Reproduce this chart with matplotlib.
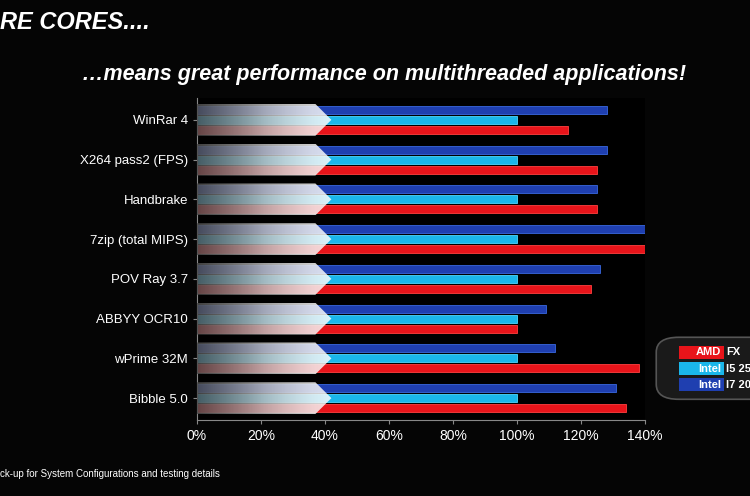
import numpy as np
import matplotlib
matplotlib.use("Agg")
import matplotlib.pyplot as plt
from matplotlib.patches import Polygon, FancyBboxPatch

plt.rcParams["font.family"] = "Liberation Sans"

# —— data ——
apps = ["WinRar 4", "X264 pass2 (FPS)", "Handbrake", "7zip (total MIPS)",
        "POV Ray 3.7", "ABBYY OCR10", "wPrime 32M", "Bibble 5.0"]
amd_fx = [116, 125, 125, 141, 123, 100, 138, 134]
intel_i5 = [100, 100, 100, 100, 100, 100, 100, 100]
intel_i7 = [128, 128, 125, 140, 126, 109, 112, 131]
ticks = [0, 20, 40, 60, 80, 100, 120, 140]
tick_labels = ["0%", "20%", "40%", "60%", "80%", "100%", "120%", "140%"]

fig = plt.figure(figsize=(7.5, 4.96), dpi=100)
fig.patch.set_facecolor("#050505")

ax = fig.add_axes([197/750, 1-420/496, 448/750, 322/496])
ax.set_facecolor("#000000")
n = len(apps)
y = np.arange(n)[::-1].astype(float)
h = 0.2
ax.barh(y + 0.25, intel_i7, height=h, color="#1f3fb0", edgecolor="#3a68e0", lw=0.6, zorder=2)
ax.barh(y, intel_i5, height=h, color="#1ab6ea", edgecolor="#4fd8ff", lw=0.6, zorder=2)
ax.barh(y - 0.25, amd_fx, height=h, color="#e8141a", edgecolor="#ff4040", lw=0.6, zorder=2)

# white arrow overlays 0..40%
grad = np.linspace(0, 1, 256).reshape(1, -1)
for yi in y:
    poly = Polygon([(0, yi - 0.4), (37, yi - 0.4), (42, yi), (37, yi + 0.4), (0, yi + 0.4)],
                   closed=True, facecolor="none", edgecolor="none", zorder=3)
    ax.add_patch(poly)
    im = ax.imshow(grad, extent=[0, 42, yi - 0.4, yi + 0.4], cmap="Greys_r",
                   alpha=0.85, aspect="auto", zorder=3, vmin=-0.3, vmax=1)
    im.set_clip_path(poly)

ax.set_xlim(0, 140)
ax.set_ylim(-0.55, n - 0.45)
ax.set_xticks(ticks)
ax.set_xticklabels(tick_labels, color="white", fontsize=10)
ax.set_yticks(y)
ax.set_yticklabels(apps, color="white", fontsize=9.5)
ax.tick_params(colors="#888888", length=3, labelcolor="white")
for s in ["top", "right"]:
    ax.spines[s].set_visible(False)
for s in ["left", "bottom"]:
    ax.spines[s].set_color("#888888")

fig.text(0.0, 0.955, "RE CORES....", color="white", fontsize=17, fontweight="bold",
         style="italic", va="center")
fig.text(0.512, 0.85, "…means great performance on multithreaded applications!", color="white",
         fontsize=15.5, fontweight="bold", style="italic", ha="center", va="center")
fig.text(0.0, 0.045, "ck-up for System Configurations and testing details", color="white",
         fontsize=7, va="center")

# legend box (cut at right edge)
fig.patches.append(FancyBboxPatch((0.885, 0.205), 0.2, 0.105, boxstyle="round,pad=0.01,rounding_size=0.03",
                                  transform=fig.transFigure, facecolor="#1a1a1a", edgecolor="#555555", lw=1.2))
leg = [("AMD", "FX", "#e8141a"), ("Intel", "I5 25", "#1ab6ea"), ("Intel", "I7 20", "#1f3fb0")]
for i, (brand, model, c) in enumerate(leg):
    yy = 0.29 - i * 0.033
    fig.patches.append(plt.Rectangle((0.905, yy - 0.013), 0.06, 0.026, transform=fig.transFigure,
                                     facecolor=c, edgecolor="none"))
    fig.text(0.962, yy, brand, color="white", fontsize=8, fontweight="bold", ha="right", va="center")
    fig.text(0.968, yy, model, color="white", fontsize=8, fontweight="bold", va="center")

fig.savefig("out.png", dpi=100, facecolor=fig.get_facecolor())
